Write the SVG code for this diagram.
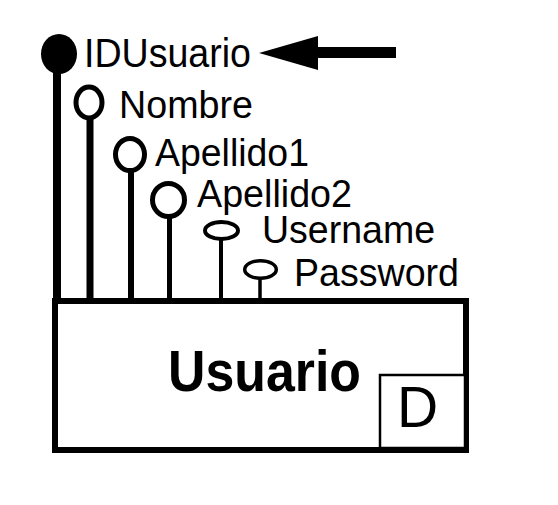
<svg xmlns="http://www.w3.org/2000/svg" width="558" height="505" viewBox="0 0 558 505">
  <style>
    .lbl { font-family: "Liberation Sans", Arial, sans-serif; font-size: 39px; fill: #000; }
    .ring { fill: #fff; stroke: #000; }
    .stem { stroke: #000; fill: none; }
  </style>
  <rect x="0" y="0" width="558" height="505" fill="#fff"/>
  <g id="connectors">
    <line class="stem" x1="57" y1="70" x2="57" y2="300" stroke-width="8"/>
    <line class="stem" x1="90" y1="118" x2="90" y2="300" stroke-width="7"/>
    <line class="stem" x1="131" y1="170" x2="131" y2="300" stroke-width="6"/>
    <line class="stem" x1="169.5" y1="218" x2="169.5" y2="303" stroke-width="5"/>
    <line class="stem" x1="221" y1="240" x2="221" y2="300" stroke-width="4"/>
    <line class="stem" x1="260" y1="279" x2="260" y2="300" stroke-width="3.5"/>
    <g id="key-arrow">
      <rect x="316" y="47" width="80" height="11" fill="#000"/>
      <polygon points="259,53 318,36 318,70" fill="#000"/>
    </g>
  </g>
  <g id="entity-usuario">
    <rect x="55" y="301" width="411" height="149" fill="#fff" stroke="#000" stroke-width="6"/>
    <rect x="380" y="375" width="85" height="73" fill="#fff" stroke="#000" stroke-width="2.5"/>
    <line x1="52" y1="451" x2="469" y2="451" stroke="#000" stroke-width="4"/>
    <text x="168" y="391" font-family="'Liberation Sans', Arial, sans-serif" font-weight="bold" font-size="58" textLength="193" lengthAdjust="spacingAndGlyphs">Usuario</text>
    <text x="397" y="427" font-family="'Liberation Sans', Arial, sans-serif" font-size="57">D</text>
  </g>
  <g id="attr-idusuario">
    <ellipse cx="59" cy="54" rx="18" ry="20" fill="#000"/>
    <text class="lbl" x="84" y="67" style="font-size:40px" textLength="167" lengthAdjust="spacingAndGlyphs">IDUsuario</text>
  </g>
  <g id="attr-nombre">
    <ellipse class="ring" cx="89" cy="102.5" rx="13" ry="15.5" stroke-width="5"/>
    <text class="lbl" x="119" y="118" textLength="134" lengthAdjust="spacingAndGlyphs">Nombre</text>
  </g>
  <g id="attr-apellido1">
    <ellipse class="ring" cx="130" cy="154.5" rx="14.5" ry="16" stroke-width="5"/>
    <text class="lbl" x="155" y="166" textLength="154" lengthAdjust="spacingAndGlyphs">Apellido1</text>
  </g>
  <g id="attr-apellido2">
    <ellipse class="ring" cx="168.5" cy="200" rx="16" ry="16.5" stroke-width="5"/>
    <text class="lbl" x="197" y="207" textLength="155" lengthAdjust="spacingAndGlyphs">Apellido2</text>
  </g>
  <g id="attr-username">
    <ellipse class="ring" cx="221.5" cy="230.5" rx="16.5" ry="8.5" stroke-width="4"/>
    <text class="lbl" x="262" y="243" textLength="173" lengthAdjust="spacingAndGlyphs">Username</text>
  </g>
  <g id="attr-password">
    <ellipse class="ring" cx="260.5" cy="269.5" rx="15.8" ry="8.8" stroke-width="3.5"/>
    <text class="lbl" x="294" y="286" textLength="165" lengthAdjust="spacingAndGlyphs">Password</text>
  </g>
</svg>
